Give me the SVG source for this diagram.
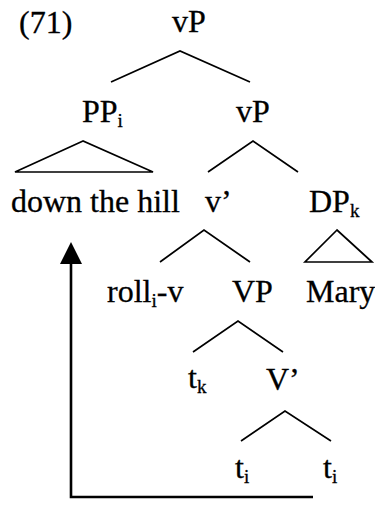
<svg xmlns="http://www.w3.org/2000/svg" width="375" height="505" viewBox="0 0 375 505">
<style>
text{font-family:"Liberation Serif","Times New Roman",serif;font-size:32px;fill:#000;stroke:#000;stroke-width:0.3}
.sub{font-size:19px}
.ln{stroke:#000;stroke-width:1.7;fill:none}
.tri{stroke:#000;stroke-width:1.7;fill:none}
.arr{stroke:#000;stroke-width:2.6;fill:none}
.head{fill:#000}
</style>
<rect width="375" height="505" fill="#fff"/>
<g id="label71"><text x="19" y="33">(71)</text></g>
<g id="vP-top"><text x="172" y="32">vP</text></g>
<g id="PP"><text x="82" y="122">PP<tspan class="sub" dy="5">i</tspan></text></g>
<g id="vP-mid"><text x="236" y="122">vP</text></g>
<g id="down-the-hill"><text x="11" y="212">down the hill</text></g>
<g id="vbar"><text x="205" y="212">v’</text></g>
<g id="DP"><text x="309" y="212">DP<tspan class="sub" dy="5">k</tspan></text></g>
<g id="roll"><text x="107" y="302">roll<tspan class="sub" dy="5">i</tspan><tspan dy="-5">-v</tspan></text></g>
<g id="VP"><text x="232" y="302">VP</text></g>
<g id="Mary"><text x="306" y="302">Mary</text></g>
<g id="tk"><text x="188" y="388">t<tspan class="sub" dy="5">k</tspan></text></g>
<g id="Vbar"><text x="266" y="390">V’</text></g>
<g id="ti1"><text x="235" y="478">t<tspan class="sub" dy="5">i</tspan></text></g>
<g id="ti2"><text x="323" y="478">t<tspan class="sub" dy="5">i</tspan></text></g>
<g id="connectors">
<polyline class="ln" points="111,82 180,51 250,82"/>
<polygon class="tri" points="83,141 15,172 153,172"/>
<polyline class="ln" points="208,172 253,141 298,172"/>
<polyline class="ln" points="160,262 204,230 250,262"/>
<polygon class="tri" points="337,230 305,262 372,262"/>
<polyline class="ln" points="193,352 238,321 283,352"/>
<polyline class="ln" points="241,441 285,411 331,441"/>
<polyline class="arr" points="313,497 71,497 71,262"/>
<path class="head" d="M71,242 L82,264 L60,264 Z"/>
</g>
</svg>
